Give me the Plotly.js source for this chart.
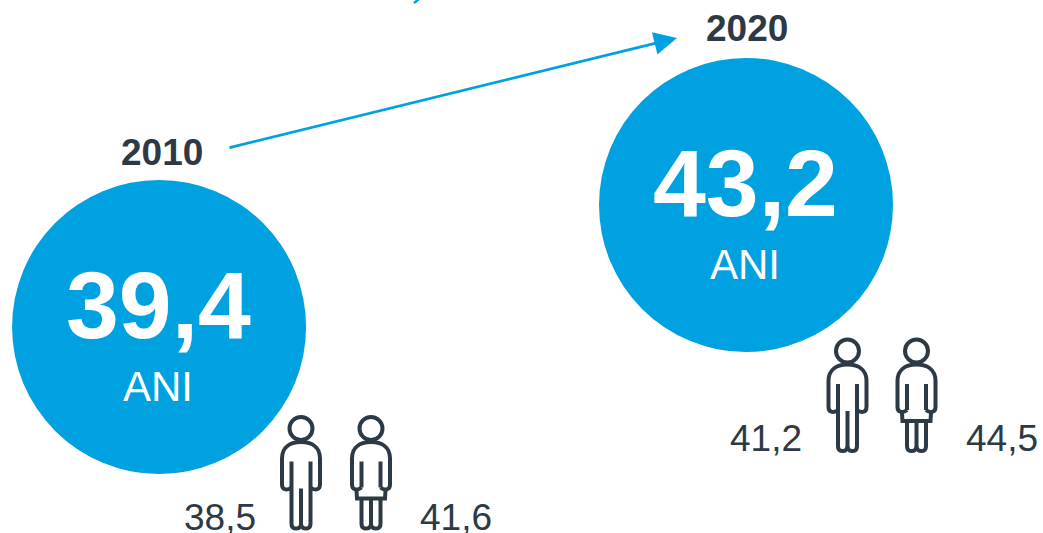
<!DOCTYPE html>
<html>
<head>
<meta charset="utf-8">
<script src="https://cdn.plot.ly/plotly-3.0.1.min.js"></script>
<style>html,body{margin:0;padding:0;background:#fff}#chart{width:1043px;height:533px}</style>
</head>
<body>
<div id="chart"></div>
<script>
// Median age in years, total and by sex
const years = [2010, 2020];
const medianAge = [39.4, 43.2];
const medianMen = [38.5, 41.2];
const medianWomen = [41.6, 44.5];
const unitLabel = 'ANI';

const BLUE = '#00A1E0';
const DARK = '#2D3A45';
const WIDTH = 1043, HEIGHT = 533;
const FONT = '"Liberation Sans", Arial, sans-serif';

const comma = v => v.toFixed(1).replace('.', ',');
const paperX = px => px / WIDTH;
const paperY = py => 1 - py / HEIGHT;

// Pictograms: strokes listed as pixel offsets from the head centre (y grows downward)
function curve(points) {
  return points.map((p, i) => (i === 0 ? 'M' : p.length === 6 ? 'C' : 'L') +
    p.map((n, k) => k % 2 ? -n : n).join(',')).join(' ');
}
const headPath = (() => {
  const r = 11.5, k = r * 0.5523;
  return curve([[r, 0], [r, k, k, r, 0, r], [-k, r, -r, k, -r, 0], [-r, -k, -k, -r, 0, -r], [k, -r, r, -k, r, 0]]);
})();
const manPaths = [
  headPath,
  curve([[-9.5, 33], [-9.5, 95], [-9.5, 101, -5, 100, -4.5, 100], [-1, 100, 0, 97, 0, 95], [0, 60]]),
  curve([[9.5, 33], [9.5, 95], [9.5, 101, 5, 100, 4.5, 100], [1, 100, 0, 97, 0, 95]]),
  curve([[-9.5, 59], [-13, 62, -19, 62, -19, 56], [-19, 30], [-19, 18, -10, 13.5, 0, 13.5], [10, 13.5, 19, 18, 19, 30], [19, 56], [19, 62, 13, 62, 9.5, 59]])
];
const womanPaths = [
  headPath,
  curve([[-9.5, 33], [-9.5, 59]]),
  curve([[9.5, 33], [9.5, 59]]),
  curve([[-9.5, 59], [-13, 62, -19, 62, -19, 56], [-19, 30], [-19, 18, -10, 13.5, 0, 13.5], [10, 13.5, 19, 18, 19, 30], [19, 56], [19, 62, 13, 62, 9.5, 59]]),
  curve([[-14.5, 62], [-14, 70], [14, 70], [14.5, 62]]),
  curve([[-9.5, 70], [-9.5, 95], [-9.5, 101, -5, 100, -4.5, 100], [-1, 100, 0, 97, 0, 95], [0, 70]]),
  curve([[9.5, 70], [9.5, 95], [9.5, 101, 5, 100, 4.5, 100], [1, 100, 0, 97, 0, 95]])
];

function pictogram(paths, px, py) {
  return paths.map(path => ({
    type: 'path', path, xref: 'paper', yref: 'paper',
    xsizemode: 'pixel', ysizemode: 'pixel',
    xanchor: paperX(px), yanchor: paperY(py),
    line: {color: DARK, width: 4}
  }));
}

const shapes = [
  ...pictogram(manPaths, 301, 428.5),
  ...pictogram(womanPaths, 371, 428.5),
  ...pictogram(manPaths, 847.5, 351),
  ...pictogram(womanPaths, 916.5, 351),
  {type: 'line', xref: 'paper', yref: 'paper', x0: paperX(414), y0: paperY(3), x1: paperX(419), y1: paperY(-1),
   line: {color: BLUE, width: 2.5}}
];

const label = (x, y, text, size, color, bold, xshift, yshift) => ({
  x, y, text: bold ? '<b>' + text + '</b>' : text, xref: 'x', yref: 'y',
  xanchor: 'center', yanchor: 'middle', showarrow: false, xshift, yshift,
  font: {family: FONT, size, color}
});
const plain = (px, py, text, size, color, bold) => ({
  x: paperX(px), y: paperY(py), text: bold ? '<b>' + text + '</b>' : text,
  xref: 'paper', yref: 'paper', xanchor: 'center', yanchor: 'middle', showarrow: false,
  font: {family: FONT, size, color}
});

const annotations = [];
years.forEach((yr, i) => {
  annotations.push(label(yr, medianAge[i], comma(medianAge[i]), 95, '#FFFFFF', true, -1, 22));
  annotations.push(label(yr, medianAge[i], unitLabel, 42, '#FFFFFF', false, -1, -60));
});
annotations.push(plain(162, 152, String(years[0]), 37, DARK, true));
annotations.push(plain(747, 28, String(years[1]), 37, DARK, true));
annotations.push(plain(220, 517, comma(medianMen[0]), 37, DARK, false));
annotations.push(plain(456, 517, comma(medianWomen[0]), 37, DARK, false));
annotations.push(plain(766, 438, comma(medianMen[1]), 37, DARK, false));
annotations.push(plain(1002, 438, comma(medianWomen[1]), 37, DARK, false));
annotations.push({
  x: paperX(677), y: paperY(38), xref: 'paper', yref: 'paper',
  ax: paperX(228), ay: paperY(148), axref: 'paper', ayref: 'paper',
  text: '', showarrow: true, arrowhead: 2, arrowsize: 1.7, arrowwidth: 2.7, arrowcolor: BLUE
});

const bubbles = {
  type: 'scatter', mode: 'markers', x: years, y: medianAge, hoverinfo: 'skip',
  marker: {size: 294, color: BLUE, line: {width: 0}}
};

Plotly.newPlot('chart', [bubbles], {
  width: WIDTH, height: HEIGHT,
  margin: {l: 0, r: 0, t: 0, b: 0},
  paper_bgcolor: '#FFFFFF', plot_bgcolor: '#FFFFFF',
  showlegend: false,
  // 58.7 px per year and 32.1 px per year of age place the two bubbles
  xaxis: {range: [2007.29, 2025.06], visible: false, fixedrange: true},
  yaxis: {range: [32.98, 49.587], visible: false, fixedrange: true},
  shapes, annotations
}, {displayModeBar: false, staticPlot: true});
</script>
</body>
</html>
